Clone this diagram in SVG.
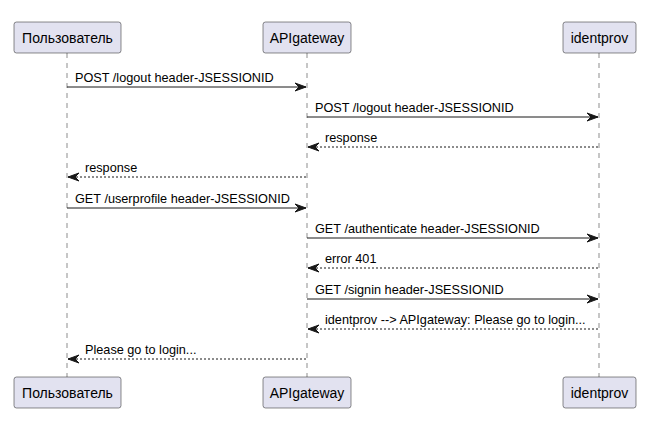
<svg xmlns="http://www.w3.org/2000/svg" width="668" height="444" viewBox="0 0 668 444">
<defs>
<style>
.box{fill:#E2E2F0;stroke:#181818;stroke-width:0.5;}
.pt{font-family:"Liberation Sans",Arial,sans-serif;font-size:14px;fill:#000;text-anchor:middle;}
.life{stroke:#181818;stroke-width:0.5;stroke-dasharray:5,5;fill:none;}
.msg{stroke:#181818;stroke-width:1;fill:none;}
.ret{stroke:#181818;stroke-width:1;stroke-dasharray:2,2;fill:none;}
.mt{font-family:"Liberation Sans",Arial,sans-serif;font-size:12.7px;fill:#000;}
.ah{fill:#181818;stroke:#181818;stroke-width:1;}
</style>
</defs>
<rect width="668" height="444" fill="#fff"/>
<g id="lifelines">
<line class="life" x1="67" y1="53" x2="67" y2="377"/>
<line class="life" x1="307" y1="53" x2="307" y2="377"/>
<line class="life" x1="599" y1="53" x2="599" y2="377"/>
</g>
<g id="user">
<rect class="box" x="14" y="22" width="107" height="31" rx="2.5"/>
<text class="pt" x="67.5" y="42.5">Пользователь</text>
<rect class="box" x="14" y="377" width="107" height="31" rx="2.5"/>
<text class="pt" x="67.5" y="397.5">Пользователь</text>
</g>
<g id="apigateway">
<rect class="box" x="263" y="22" width="88" height="31" rx="2.5"/>
<text class="pt" x="307" y="42.5">APIgateway</text>
<rect class="box" x="263" y="377" width="88" height="31" rx="2.5"/>
<text class="pt" x="307" y="397.5">APIgateway</text>
</g>
<g id="identprov">
<rect class="box" x="563" y="22" width="73" height="31" rx="2.5"/>
<text class="pt" x="599.5" y="42.5">identprov</text>
<rect class="box" x="563" y="377" width="73" height="31" rx="2.5"/>
<text class="pt" x="599.5" y="397.5">identprov</text>
</g>
<g id="connectors">
<line class="msg" x1="67" y1="87" x2="306" y2="87"/>
<polygon class="ah" points="295,83 306,87 295,91 299,87"/>
<text class="mt" x="75" y="82">POST /logout header-JSESSIONID</text>

<line class="msg" x1="307" y1="117" x2="598" y2="117"/>
<polygon class="ah" points="587,113 598,117 587,121 591,117"/>
<text class="mt" x="315" y="112">POST /logout header-JSESSIONID</text>

<line class="ret" x1="308" y1="147" x2="599" y2="147"/>
<polygon class="ah" points="319,143 308,147 319,151 315,147"/>
<text class="mt" x="325" y="142">response</text>

<line class="ret" x1="68" y1="177" x2="307" y2="177"/>
<polygon class="ah" points="79,173 68,177 79,181 75,177"/>
<text class="mt" x="85" y="172">response</text>

<line class="msg" x1="67" y1="208" x2="306" y2="208"/>
<polygon class="ah" points="295,204 306,208 295,212 299,208"/>
<text class="mt" x="75" y="203">GET /userprofile header-JSESSIONID</text>

<line class="msg" x1="307" y1="238" x2="598" y2="238"/>
<polygon class="ah" points="587,234 598,238 587,242 591,238"/>
<text class="mt" x="315" y="233">GET /authenticate header-JSESSIONID</text>

<line class="ret" x1="308" y1="268" x2="599" y2="268"/>
<polygon class="ah" points="319,264 308,268 319,272 315,268"/>
<text class="mt" x="325" y="263">error 401</text>

<line class="msg" x1="307" y1="299" x2="598" y2="299"/>
<polygon class="ah" points="587,295 598,299 587,303 591,299"/>
<text class="mt" x="315" y="294">GET /signin header-JSESSIONID</text>

<line class="ret" x1="308" y1="329" x2="599" y2="329"/>
<polygon class="ah" points="319,325 308,329 319,333 315,329"/>
<text class="mt" x="325" y="324">identprov --&gt; APIgateway: Please go to login...</text>

<line class="ret" x1="68" y1="359" x2="307" y2="359"/>
<polygon class="ah" points="79,355 68,359 79,363 75,359"/>
<text class="mt" x="85" y="354">Please go to login...</text>
</g>
</svg>
